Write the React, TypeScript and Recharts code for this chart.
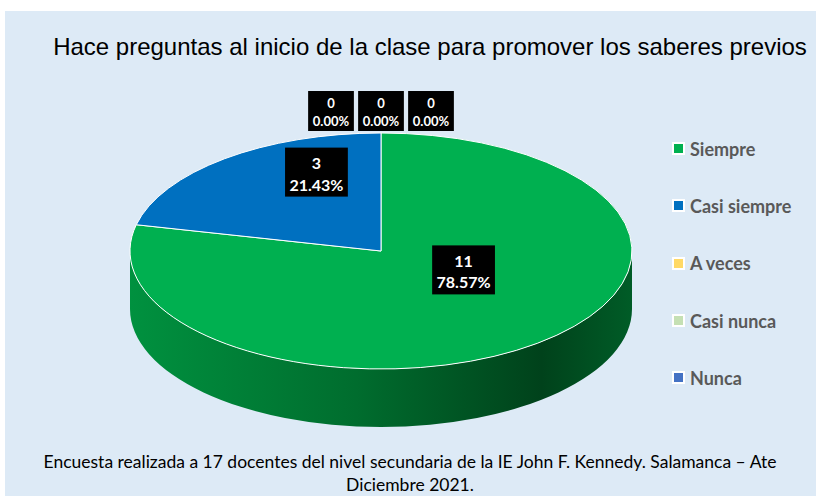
import React from "react";
import { PieChart, Pie, Cell } from "recharts";

const categories = ["Siempre", "Casi siempre", "A veces", "Casi nunca", "Nunca"];
const counts = [11, 3, 0, 0, 0];
const colors = ["#00B050", "#0070C0", "#FFD966", "#C5E0B4", "#4472C4"];

const title = "Hace preguntas al inicio de la clase para promover los saberes previos";
const captionLines = [
  "Encuesta realizada a 17 docentes del nivel secundaria de la IE John F. Kennedy. Salamanca – Ate",
  "Diciembre 2021.",
];

const data = categories.map((name, i) => ({ name, value: counts[i] }));

const TILT = 118 / 251; // vertical squash of the pie top
const DEPTH = 58; // thickness of the 3D wall
const RAD = Math.PI / 180;

const pt = (cx: number, cy: number, rx: number, ry: number, a: number) =>
  `${cx + rx * Math.cos(a * RAD)},${cy - ry * Math.sin(a * RAD)}`;

const TopFace = (props: any) => {
  const { cx, cy, outerRadius, startAngle, endAngle, fill } = props;
  const hi = Math.max(startAngle, endAngle);
  const lo = Math.min(startAngle, endAngle);
  if (hi - lo <= 0) return <g />;
  const rx = outerRadius;
  const ry = outerRadius * TILT;
  const large = hi - lo > 180 ? 1 : 0;
  const d = `M${cx},${cy} L${pt(cx, cy, rx, ry, hi)} A${rx},${ry} 0 ${large} 1 ${pt(cx, cy, rx, ry, lo)} Z`;
  return <path d={d} fill={fill} stroke="#ffffff" strokeWidth={1} />;
};

const WallFace = (props: any) => {
  const { cx, cy, outerRadius, startAngle, endAngle, index } = props;
  const s = Math.max(startAngle, endAngle);
  const e = Math.min(startAngle, endAngle);
  const rx = outerRadius;
  const ry = outerRadius * TILT;
  const gid = `wall-grad-${index}`;
  const paths: string[] = [];
  for (let k = -2; k <= 1; k++) {
    const lo = Math.max(e, -180 + 360 * k);
    const hi = Math.min(s, 360 * k);
    if (lo < hi) {
      const large = hi - lo > 180 ? 1 : 0;
      const a = pt(cx, cy, rx, ry, hi);
      const b = pt(cx, cy, rx, ry, lo);
      const bd = pt(cx, cy + DEPTH, rx, ry, lo);
      const ad = pt(cx, cy + DEPTH, rx, ry, hi);
      paths.push(`M${a} A${rx},${ry} 0 ${large} 1 ${b} L${bd} A${rx},${ry} 0 ${large} 0 ${ad} Z`);
    }
  }
  if (!paths.length) return <g />;
  return (
    <g>
      <defs>
        <linearGradient id={gid} gradientUnits="userSpaceOnUse" x1={cx - rx} y1={0} x2={cx + rx} y2={0}>
          <stop offset="0%" stopColor="#00913f" />
          <stop offset="45%" stopColor="#006d2e" />
          <stop offset="82%" stopColor="#00421b" />
          <stop offset="100%" stopColor="#005c27" />
        </linearGradient>
      </defs>
      {paths.map((d, i) => (
        <path key={i} d={d} fill={`url(#${gid})`} />
      ))}
    </g>
  );
};

const renderLabel = (props: any) => {
  const { cx, cy, midAngle, outerRadius, value, percent, name } = props;
  const index = categories.indexOf(name);
  const rx = outerRadius;
  const ry = outerRadius * TILT;
  const pctText = `${(percent * 100).toFixed(2)}%`;
  const isZero = value === 0;
  const fs = isZero ? 13 : 16;
  const w = pctText.length * fs * 0.55 + 10;
  const h = isZero ? 40 : 49;
  const x = isZero ? cx + (index - 3) * 50 : cx + 9 + 0.47 * rx * Math.cos(midAngle * RAD);
  const y = isZero ? cy - ry - 22 : cy - 30 - 0.53 * ry * Math.sin(midAngle * RAD);
  return (
    <g>
      <rect x={x - w / 2} y={y - h / 2} width={w} height={h} fill="#000000" />
      <text
        x={x}
        y={y}
        textAnchor="middle"
        fill="#ffffff"
        fontFamily="Lato, 'Open Sans', sans-serif"
        fontWeight="bold"
        fontSize={fs}
      >
        <tspan x={x} dy={-fs * 0.2}>{value}</tspan>
        <tspan x={x} dy={fs * 1.35}>{pctText}</tspan>
      </text>
    </g>
  );
};

export default function App() {
  return (
    <div style={{ position: "absolute", left: 0, top: 0, width: 816, height: 502, background: "#ffffff" }}>
      <div style={{ position: "absolute", left: 5, top: 11, width: 811, height: 485, background: "#DDEAF6" }} />
      <div
        style={{
          position: "absolute",
          left: 0,
          top: 33,
          width: 860,
          textAlign: "center",
          fontFamily: "'Liberation Sans', Arial, sans-serif",
          fontSize: 24,
          color: "#000000",
          whiteSpace: "nowrap",
        }}
      >
        {title}
      </div>
      <PieChart width={816} height={502} style={{ position: "absolute", left: 0, top: 0 }} margin={{ top: 0, right: 0, bottom: 0, left: 0 }}>
        <Pie
          data={data}
          dataKey="value"
          nameKey="name"
          cx={381}
          cy={251}
          outerRadius={251}
          startAngle={90}
          endAngle={-270}
          legendType="none"
          stroke="none"
          isAnimationActive={false}
          shape={WallFace}
          inactiveShape={WallFace}
          activeShape={WallFace}
        >
          {data.map((d, i) => (
            <Cell key={d.name} fill={colors[i]} />
          ))}
        </Pie>
        <Pie
          data={data}
          dataKey="value"
          nameKey="name"
          cx={381}
          cy={251}
          outerRadius={251}
          startAngle={90}
          endAngle={-270}
          isAnimationActive={false}
          labelLine={false}
          label={renderLabel}
          shape={TopFace}
          inactiveShape={TopFace}
          activeShape={TopFace}
        >
          {data.map((d, i) => (
            <Cell key={d.name} fill={colors[i]} />
          ))}
        </Pie>
      </PieChart>
      {/* legend */}
      <div style={{ position: "absolute", left: 672, top: 120, fontFamily: "Lato, 'Open Sans', sans-serif" }}>
        {categories.map((name, i) => (
          <div key={name} style={{ display: "flex", alignItems: "center", height: 57.3 }}>
            <span
              style={{
                width: 9,
                height: 9,
                background: colors[i],
                border: "2px solid #ffffff",
                marginRight: 5,
                display: "inline-block",
              }}
            />
            <span style={{ color: "#595959", fontWeight: "bold", fontSize: 18 }}>{name}</span>
          </div>
        ))}
      </div>
      <div
        style={{
          position: "absolute",
          left: 0,
          top: 450,
          width: 820,
          textAlign: "center",
          fontFamily: "Lato, 'Open Sans', sans-serif",
          fontSize: 17.5,
          lineHeight: "23px",
          color: "#000000",
        }}
      >
        {captionLines.map((l) => (
          <div key={l}>{l}</div>
        ))}
      </div>
    </div>
  );
}
